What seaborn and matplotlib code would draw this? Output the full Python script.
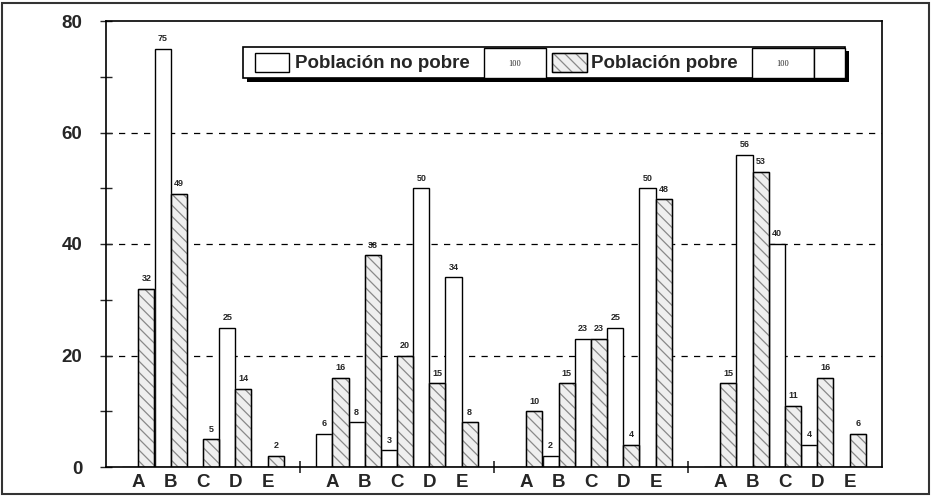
import numpy as np
import pandas as pd
import matplotlib
matplotlib.use('Agg')
import matplotlib.pyplot as plt
import matplotlib as mpl
from matplotlib.patches import Rectangle
import seaborn as sns

## ============================================================= ##

categorias = ['A', 'B', 'C', 'D', 'E']
series = ['Población no pobre', 'Población pobre']
totales = [100, 100]

# one row per group, one value per category
no_pobre = [[0, 75, 0, 25, 0],
            [6, 8, 3, 50, 34],
            [0, 2, 23, 25, 50],
            [0, 56, 40, 4, 0]]
pobre = [[32, 49, 5, 14, 2],
         [16, 38, 20, 15, 8],
         [10, 15, 23, 4, 48],
         [15, 53, 11, 16, 6]]

y_ticks = [0, 20, 40, 60, 80]

## ============================================================= ##

GROUP_STEP = 6
rows = []
for g in range(len(no_pobre)):
    for c, cat in enumerate(categorias):
        pos = g * GROUP_STEP + 1 + c
        rows.append(dict(pos=pos, cat=cat, serie=series[0], valor=no_pobre[g][c]))
        rows.append(dict(pos=pos, cat=cat, serie=series[1], valor=pobre[g][c]))
df = pd.DataFrame(rows)

sns.set_style('ticks')
plt.rcParams['font.family'] = ['Liberation Sans', 'DejaVu Sans']
plt.rcParams['hatch.linewidth'] = 0.9

W, H = 932, 496
fig = plt.figure(figsize=(W / 100, H / 100), dpi=100)
ax = fig.add_axes([106 / W, 1 - 467 / H, 776 / W, 446 / H])

sns.barplot(data=df, x='pos', y='valor', hue='serie', hue_order=series,
            native_scale=True, width=1.0, dodge=True, errorbar=None,
            palette=['white', '#efefef'], edgecolor='black', linewidth=1.0,
            legend=False, ax=ax)

hatched = []
for p in ax.patches:
    if not np.allclose(p.get_facecolor()[:3], (1, 1, 1)):
        p.set_hatch('\\\\\\')
        p.set_edgecolor('#888888')
        hatched.append(p)
for p in hatched:
    ax.add_patch(Rectangle(p.get_xy(), p.get_width(), p.get_height(),
                           fill=False, edgecolor='black', lw=1.0, zorder=p.get_zorder() + 0.1))

for cont in ax.containers:
    labels = ['%d' % v if v > 0 else '' for v in cont.datavalues]
    ax.bar_label(cont, labels=labels, padding=4, fontsize=6.5, fontweight='bold')

# axes
n_groups = len(no_pobre)
ax.set_xlim(0, n_groups * GROUP_STEP)
ax.set_ylim(0, 80)
ax.set_xticks(df['pos'].unique())
ax.set_xticklabels(categorias * n_groups)
ax.set_xticks([GROUP_STEP * k for k in range(1, n_groups)], minor=True)
ax.set_yticks(y_ticks)
ax.set_yticks([10, 30, 50, 70], minor=True)
ax.tick_params(axis='x', which='major', length=0, pad=5, labelsize=13.5)
ax.tick_params(axis='x', which='minor', direction='inout', length=9, width=1.2)
ax.tick_params(axis='y', which='both', direction='inout', length=8, width=1.0, pad=13, labelsize=13.5)
for t in ax.get_xticklabels() + ax.get_yticklabels():
    t.set_fontweight('bold')
ax.set_xlabel('')
ax.set_ylabel('')
for s in ax.spines.values():
    s.set_visible(True)
    s.set_color('black')
    s.set_linewidth(1.2)
for y in y_ticks[1:-1]:
    ax.axhline(y, color='black', lw=0.9, ls=(0, (5, 5)), zorder=0)

## ============================================================= ##
# legend box, drawn in pixel coordinates of the figure

def px(x0, y0, x1, y1):
    return (x0 / W, 1 - y1 / H), (x1 - x0) / W, (y1 - y0) / H

def box(x0, y0, x1, y1, **kw):
    xy, w, h = px(x0, y0, x1, y1)
    r = Rectangle(xy, w, h, transform=fig.transFigure, **kw)
    fig.add_artist(r)
    return r

box(247, 51, 849, 82, facecolor='black', edgecolor='black', lw=0)
box(243, 47, 845, 78, facecolor='white', edgecolor='black', lw=1.2)
box(255, 53, 289, 72, facecolor='white', edgecolor='black', lw=1.0)
fig.text(295 / W, 1 - 63 / H, series[0], fontsize=13.5, fontweight='bold', va='center', ha='left')
box(484, 48, 546, 78, facecolor='white', edgecolor='black', lw=1.0)
fig.text(515 / W, 1 - 64 / H, str(totales[0]), fontsize=6, va='center', ha='center', family='Liberation Serif')
box(552, 53, 587, 72, facecolor='#efefef', edgecolor='#888888', lw=1.0, hatch='\\\\\\')
box(552, 53, 587, 72, fill=False, edgecolor='black', lw=1.0)
fig.text(591 / W, 1 - 63 / H, series[1], fontsize=13.5, fontweight='bold', va='center', ha='left')
box(752, 48, 814, 78, facecolor='white', edgecolor='black', lw=1.0)
fig.text(783 / W, 1 - 64 / H, str(totales[1]), fontsize=6, va='center', ha='center', family='Liberation Serif')
box(814, 48, 845, 78, facecolor='white', edgecolor='black', lw=1.0)

# outer frame of the picture
fig.add_artist(Rectangle((2 / W, 2 / H), 927 / W, 491 / H, transform=fig.transFigure,
                         fill=False, edgecolor='#333333', lw=1.5))

fig.savefig('out.png', dpi=100)
